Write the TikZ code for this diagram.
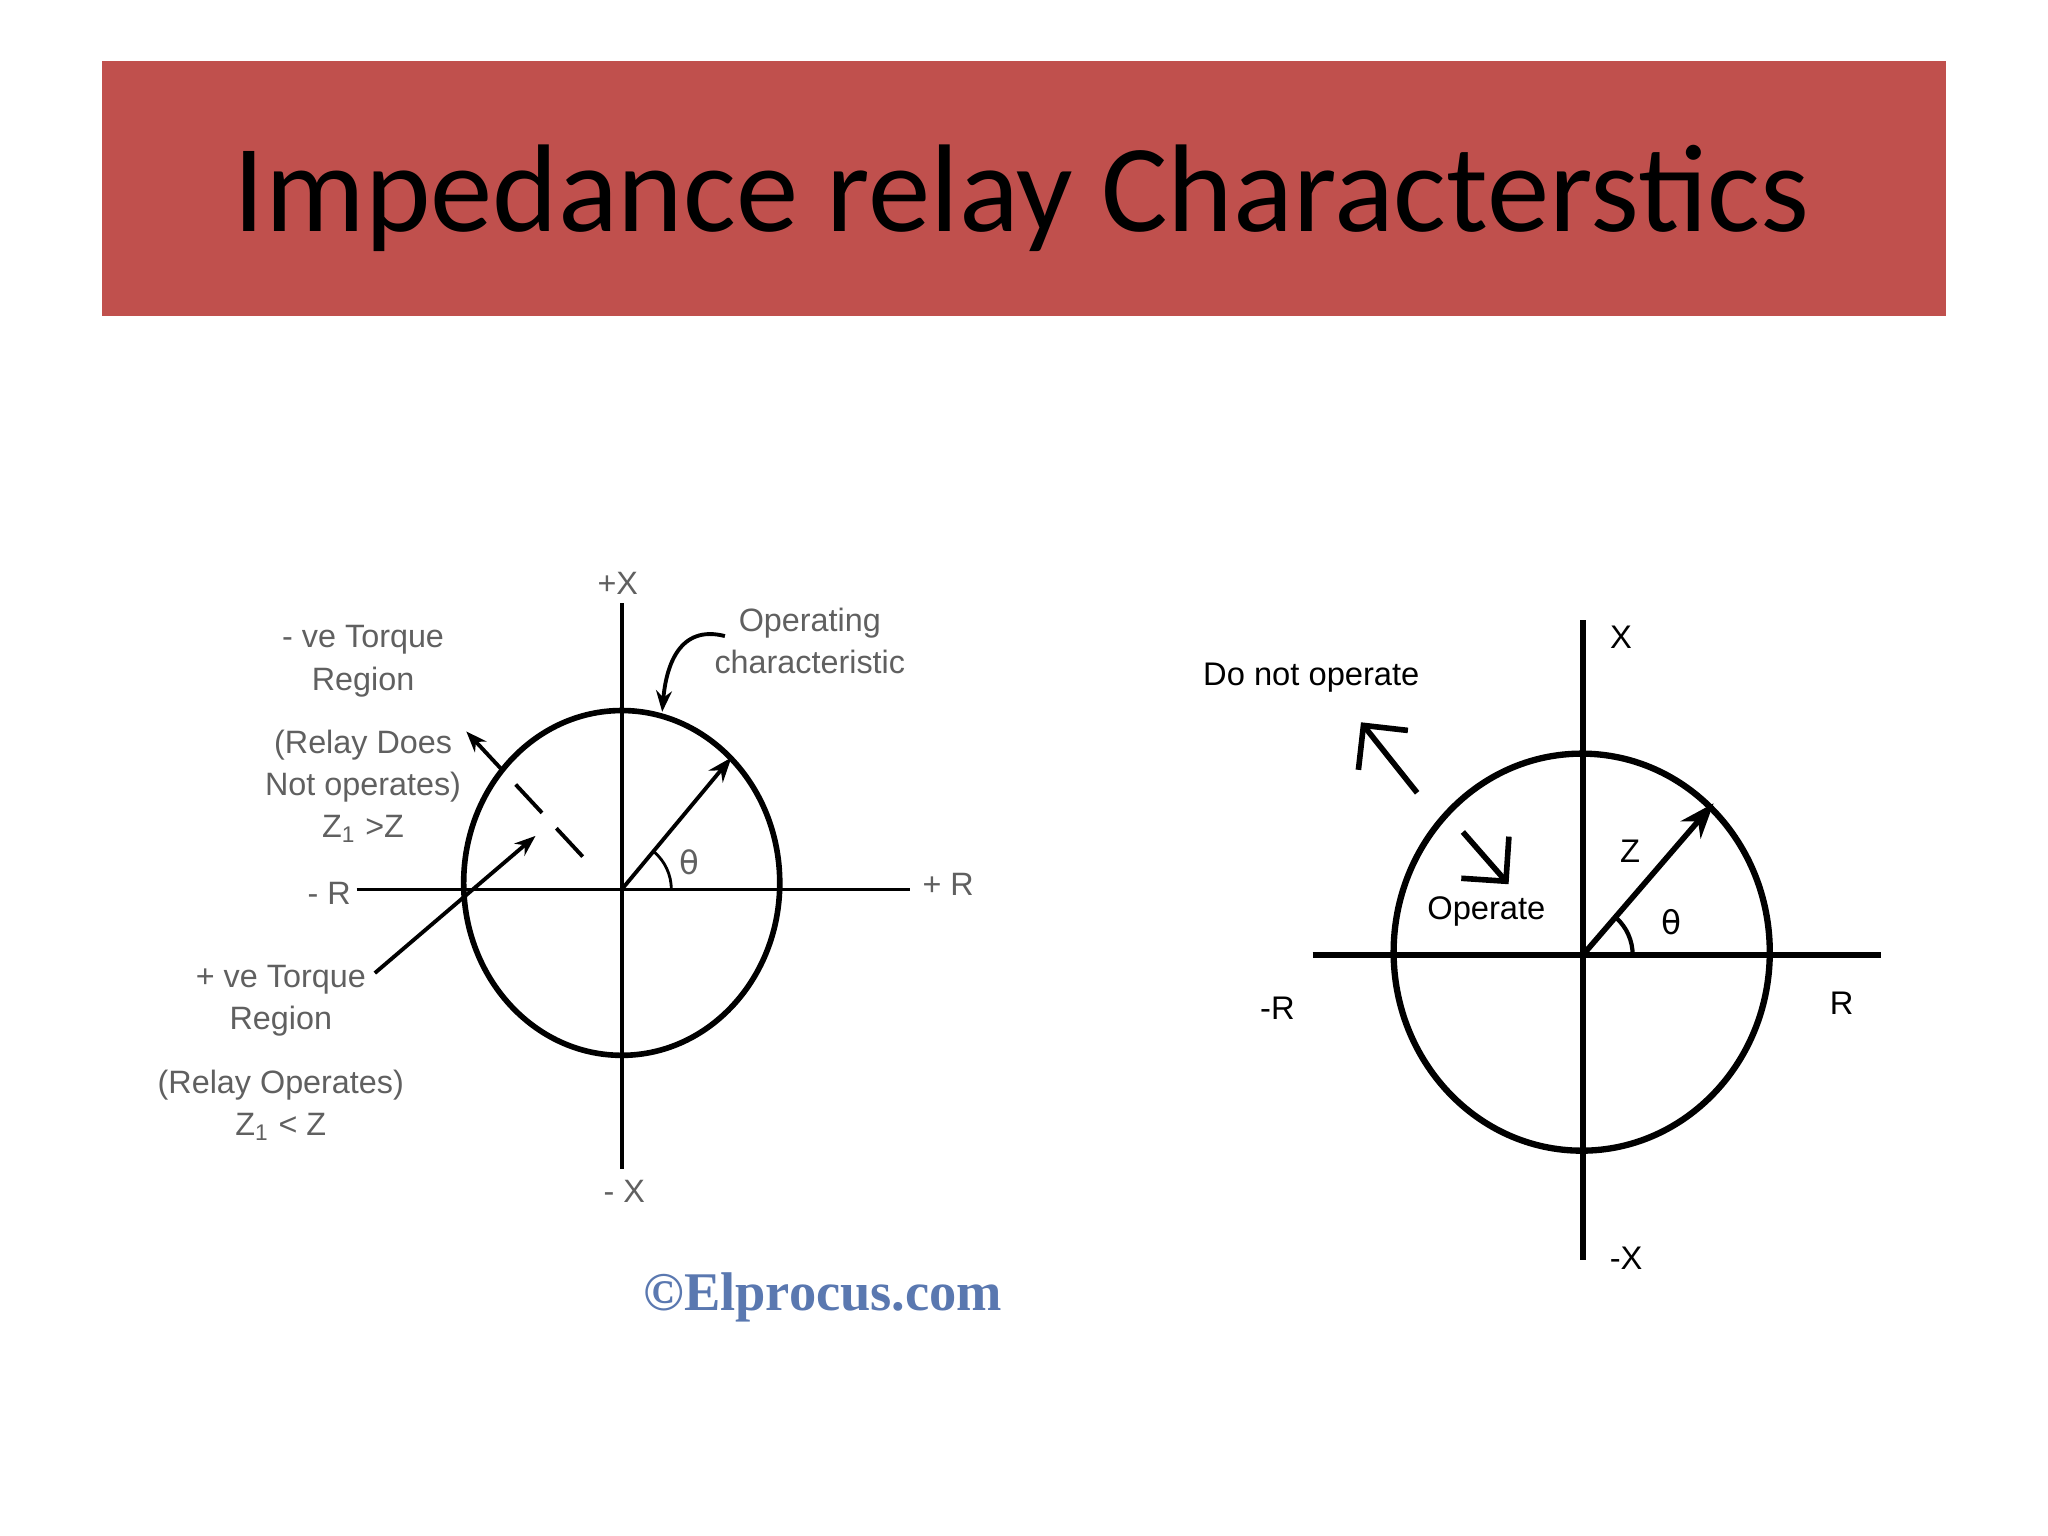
\documentclass[tikz,border=0pt]{standalone}
\usepackage{fontspec}
\setmainfont{Carlito}
\newfontfamily\arial{Liberation Sans}
\newfontfamily\tnr{Liberation Serif}
\newfontfamily\dejav{DejaVu Sans}
\usetikzlibrary{arrows.meta}
\definecolor{barred}{HTML}{C0504D}
\definecolor{lgray}{HTML}{606060}
\definecolor{elp}{HTML}{5A78B0}
\tikzset{lt/.style={text=lgray,font=\arial\fontsize{9.2}{12}\selectfont,align=center},
rt/.style={font=\arial\fontsize{9.3}{12}\selectfont},
ax/.style={line width=1.1pt},
axr/.style={line width=1.6pt}}
\begin{document}
\begin{tikzpicture}[x=0.013061cm,y=-0.013061cm]
\useasboundingbox (0,0) rectangle (1568,1176);
\fill[barred] (78,47) rectangle (1490,242);
\node (title) at (782,152) {\fontsize{35.5}{42}\selectfont Impedance relay Characterstics};
% left diagram
\coordinate (lo) at (476,681);
\draw[ax] (273,681) -- (697,681);
\draw[ax] (476,462) -- (476,895);
\draw[line width=1.6pt] (476,676) ellipse [x radius=121, y radius=132];
\draw[ax,-{Stealth[length=7pt]}] (lo) -- (560,580);
\draw[line width=0.8pt] (514,681) arc[start angle=0,end angle=-50,radius=38];
\node[lt] (th1) at (528,660) {\dejav θ};
\node[lt] (px) at (473,447) {+X};
\node[lt] (mx) at (478,912) {- X};
\node[lt] (mr) at (252,684) {- R};
\node[lt] (pr) at (726,677) {+ R};
\node[lt] (oc) at (620,491) {Operating\\characteristic};
\draw[ax,-{Stealth[length=6pt]}] (555,487) .. controls (520,478) and (510,510) .. (507,545);
\node[lt] (nt) at (278,562) {- ve Torque\\Region\\[6pt](Relay Does\\Not operates)\\Z\textsubscript{1} >Z};
\draw[ax,dashed,dash pattern=on 11pt off 6pt,{Stealth[length=6pt]}-] (357,560) -- (450,660);
\node[lt] (pt) at (215,806) {+ ve Torque\\Region\\[6pt](Relay Operates)\\Z\textsubscript{1} < Z};
\draw[ax,-{Stealth[length=6pt]}] (287,745) -- (410,640);
\node[text=elp,font=\tnr\bfseries\fontsize{15.5}{20}\selectfont] (el) at (630,993) {\copyright Elprocus.com};
% right diagram
\coordinate (ro) at (1212,731);
\draw[axr] (1005,731) -- (1440,731);
\draw[axr] (1212,475) -- (1212,965);
\draw[line width=1.8pt] (1211,729) ellipse [x radius=144, y radius=152];
\draw[axr,-{Stealth[length=10pt]}] (ro) -- (1312,615);
\draw[line width=1.2pt] (1250,731) arc[start angle=0,end angle=-48,radius=38];
\node[rt] (z) at (1248,652) {Z};
\node[rt] (th2) at (1280,706) {\dejav θ};
\node[rt] (rx) at (1241,488) {X};
\node[rt] (rmx) at (1245,963) {-X};
\node[rt] (rmr) at (978,772) {-R};
\node[rt] (rr) at (1410,768) {R};
\node[rt] (dno) at (1004,519) {Do not operate};
\node[rt] (op) at (1138,698) {Operate};
\draw[axr,-{Straight Barb[length=9pt]}] (1085,607) -- (1042,553);
\draw[axr,-{Straight Barb[length=9pt]}] (1120,637) -- (1155,677);
\end{tikzpicture}
\end{document}
